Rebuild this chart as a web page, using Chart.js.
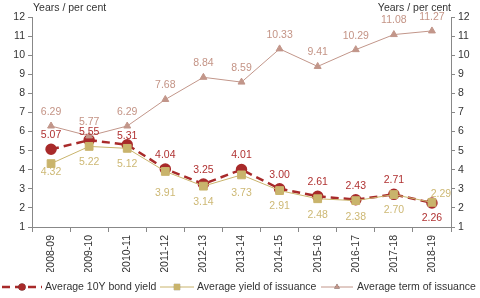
<!DOCTYPE html>
<html>
<head>
<meta charset="utf-8">
<script src="https://cdn.jsdelivr.net/npm/chart.js@4"></script>
<style>
  html, body { margin: 0; padding: 0; background: #fff; }
  #wrap { width: 480px; height: 298px; }
</style>
</head>
<body>
<div id="wrap"><canvas id="bondChart"></canvas></div>
<script>
// Data
const years = ["2008-09", "2009-10", "2010-11", "2011-12", "2012-13", "2013-14",
  "2014-15", "2015-16", "2016-17", "2017-18", "2018-19"];
const bondYield10Y = [5.07, 5.55, 5.31, 4.04, 3.25, 4.01, 3.00, 2.61, 2.43, 2.71, 2.26];
const issuanceYield = [4.32, 5.22, 5.12, 3.91, 3.14, 3.73, 2.91, 2.48, 2.38, 2.70, 2.29];
const issuanceTerm = [6.29, 5.77, 6.29, 7.68, 8.84, 8.59, 10.33, 9.41, 10.29, 11.08, 11.27];
const seriesNames = ["Average 10Y bond yield", "Average yield of issuance", "Average term of issuance"];
const axisTitle = "Years / per cent";

const FONT = "'Liberation Sans', Arial, sans-serif";
const red = "#a82a2a";
const tan = "#c9b46c";
const rose = "#c2968a";

// valeurs au-dessus / au-dessous des points
const valueLabels = {
  id: "valueLabels",
  afterDatasetsDraw(chart) {
    const ctx = chart.ctx;
    const cfg = [
      { color: "#b03232", dy: -14, fix: { 1: -8, 2: -9, 10: 15 } },
      { color: "#cdb874", dy: 16, fix: { 0: 8, 3: 22, 5: 18, 10: -8 }, dx: { 10: 9 } },
      { color: "#c49486", dy: -14, fix: {} },
    ];
    ctx.save();
    ctx.font = "10.5px " + FONT;
    ctx.textAlign = "center";
    ctx.textBaseline = "middle";
    chart.data.datasets.forEach((ds, i) => {
      const meta = chart.getDatasetMeta(i);
      const c = cfg[i];
      ctx.fillStyle = c.color;
      meta.data.forEach((pt, j) => {
        const dy = c.fix[j] !== undefined ? c.fix[j] : c.dy;
        const dx = c.dx && c.dx[j] ? c.dx[j] : 0;
        ctx.fillText(ds.data[j].toFixed(2), pt.x + dx, pt.y + dy);
      });
    });
    ctx.restore();
  },
};

// titres d'axes + légende
const extras = {
  id: "extras",
  afterDraw(chart) {
    const ctx = chart.ctx;
    const area = chart.chartArea;
    ctx.save();
    ctx.font = "10.5px " + FONT;
    ctx.fillStyle = "#333";
    ctx.textBaseline = "middle";
    ctx.textAlign = "left";
    ctx.fillText(axisTitle, area.left + 1, 8);
    ctx.textAlign = "right";
    ctx.fillText(axisTitle, area.right, 8);

    const y = 287;
    const items = [
      { x1: 2, x2: 42, text: 45 },
      { x1: 160, x2: 194, text: 197 },
      { x1: 321, x2: 353, text: 357 },
    ];
    chart.data.datasets.forEach((ds, i) => {
      const it = items[i];
      ctx.strokeStyle = ds.borderColor;
      ctx.lineWidth = ds.borderWidth;
      ctx.setLineDash(ds.borderDash || []);
      ctx.beginPath();
      ctx.moveTo(it.x1, y);
      ctx.lineTo(it.x2, y);
      ctx.stroke();
      ctx.setLineDash([]);
      Chart.helpers.drawPoint(ctx, {
        pointStyle: ds.pointStyle,
        radius: ds.pointRadius * 0.8,
        rotation: 0,
        borderWidth: 0,
      }, (it.x1 + it.x2) / 2, y);
      ctx.fillStyle = ds.pointBackgroundColor;
      ctx.fill();
      ctx.fillStyle = "#333";
      ctx.textAlign = "left";
      ctx.fillText(seriesNames[i], it.text, y);
    });
    ctx.restore();
  },
};

const tickFont = { family: FONT, size: 10.5 };

const bondChart = document.querySelector("#bondChart");
const myChart = new Chart(bondChart, {
  type: "line",
  data: {
    labels: years,
    datasets: [
      {
        label: seriesNames[0],
        data: bondYield10Y,
        borderColor: red,
        backgroundColor: red,
        pointBackgroundColor: red,
        pointBorderColor: red,
        borderWidth: 2.5,
        borderDash: [8, 5],
        pointStyle: "circle",
        pointRadius: 4.5,
        order: 3,
      },
      {
        label: seriesNames[1],
        data: issuanceYield,
        borderColor: tan,
        backgroundColor: tan,
        pointBackgroundColor: tan,
        pointBorderColor: tan,
        borderWidth: 1,
        pointStyle: "rect",
        pointRadius: 5.5,
        order: 2,
      },
      {
        label: seriesNames[2],
        data: issuanceTerm,
        borderColor: rose,
        backgroundColor: rose,
        pointBackgroundColor: rose,
        pointBorderColor: rose,
        borderWidth: 1,
        pointStyle: "triangle",
        pointRadius: 4,
        order: 1,
      },
    ],
  },
  options: {
    responsive: true,
    maintainAspectRatio: false,
    animation: false,
    layout: { padding: { top: 17, bottom: 26, left: 0, right: 0 } },
    plugins: {
      legend: { display: false },
      tooltip: { enabled: false },
    },
    scales: {
      x: {
        offset: true,
        grid: { display: true, drawOnChartArea: false, offset: true, tickLength: 5, color: "#888" },
        border: { color: "#888", width: 1 },
        ticks: { font: tickFont, color: "#333", minRotation: 90, maxRotation: 90, padding: 3 },
        afterFit(scale) { scale.height = 45; },
      },
      y: {
        position: "left",
        min: 1,
        max: 12,
        grid: { display: true, drawOnChartArea: false, tickLength: 4, color: "#888" },
        border: { color: "#888", width: 1 },
        ticks: { stepSize: 1, font: tickFont, color: "#333", padding: 3 },
        afterFit(scale) { scale.width = 32; },
      },
      y2: {
        position: "right",
        min: 1,
        max: 12,
        grid: { display: true, drawOnChartArea: false, tickLength: 4, color: "#888" },
        border: { color: "#888", width: 1 },
        ticks: { stepSize: 1, font: tickFont, color: "#333", padding: 3 },
        afterFit(scale) { scale.width = 29; },
      },
    },
  },
  plugins: [valueLabels, extras],
});
</script>
</body>
</html>
